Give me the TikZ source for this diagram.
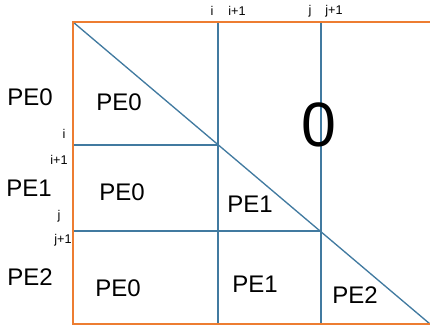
\documentclass[tikz,border=0pt]{standalone}
\usepackage{fontspec}
\setmainfont{Liberation Sans}
\definecolor{frameorange}{RGB}{237,125,49}
\definecolor{gridblue}{RGB}{65,122,160}
\tikzset{
    pelabel/.style={font=\fontsize{18}{20}\selectfont, inner sep=0pt},
    idxlabel/.style={font=\fontsize{9.5}{11}\selectfont, inner sep=0pt},
    gridline/.style={draw=gridblue, line width=1pt},
    frameline/.style={draw=frameorange, line width=1.4pt}
}
\begin{document}
\begin{tikzpicture}[x=0.75pt, y=-0.75pt]
        \useasboundingbox (0,0) rectangle (430,326);

        % Corners of the matrix
        \coordinate (tl) at (73,22);
        \coordinate (tr) at (430,22);
        \coordinate (bl) at (73,324);
        \coordinate (br) at (430,324);

        % Block grid
        \draw[gridline] (218,22) -- (218,324);
        \draw[gridline] (321,22) -- (321,324);
        \draw[gridline] (73,145) -- (218,145);
        \draw[gridline] (73,231) -- (321,231);

        % Diagonal
        \draw[gridline] (tl) -- (br);

        % Frame
        \draw[frameline] (tr) -- (tl) -- (bl) -- (br);

        % Row owners
        \node[pelabel] (row0) at (30,97) {PE0};
        \node[pelabel] (row1) at (29,188) {PE1};
        \node[pelabel] (row2) at (30,277) {PE2};

        % Blocks
        \node[pelabel] (b00) at (119,102) {PE0};
        \node[pelabel] (b10) at (122,192) {PE0};
        \node[pelabel] (b20) at (118,288) {PE0};
        \node[pelabel] (b11) at (250,204) {PE1};
        \node[pelabel] (b21) at (255,284) {PE1};
        \node[pelabel] (b22) at (355,295) {PE2};
        \node[font=\fontsize{47}{50}\selectfont, inner sep=0pt] (zero) at (319,125) {0};

        % Column indices
        \foreach \name/\x/\txt in {ci/212/i, cii/237/i+1, cj/310/j, cjj/334/j+1} {
            \node[idxlabel] (\name) at (\x,11) {\txt};
        }

        % Row indices
        \foreach \name/\x/\y/\txt in {ri/64/134/i, rii/59/160/i+1, rj/59/216/j, rjj/63/240/j+1} {
            \node[idxlabel] (\name) at (\x,\y) {\txt};
        }
    \end{tikzpicture}
\end{document}
